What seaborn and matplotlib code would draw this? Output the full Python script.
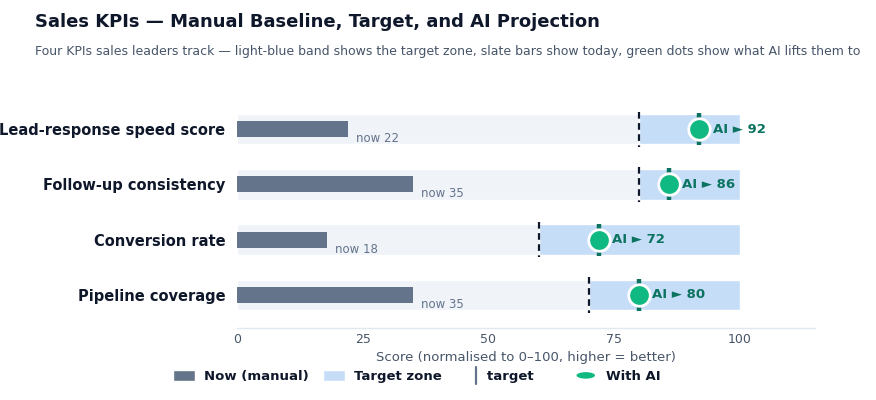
import numpy as np
import pandas as pd
import seaborn as sns
import matplotlib.pyplot as plt
from matplotlib.patches import Patch, Ellipse
from matplotlib.lines import Line2D
from matplotlib.legend_handler import HandlerBase

# ── Data ──────────────────────────────────────────────────────────────────────
KPIS = ['Lead-response speed score', 'Follow-up consistency',
        'Conversion rate', 'Pipeline coverage']
NOW = [22, 35, 18, 35]
TARGET = [80, 80, 60, 70]
WITH_AI = [92, 86, 72, 80]
SCALE_MAX = 100

TITLE = 'Sales KPIs — Manual Baseline, Target, and AI Projection'
SUBTITLE = ('Four KPIs sales leaders track — light-blue band shows the target zone, '
            'slate bars show today, green dots show what AI lifts them to')

# ── Style ─────────────────────────────────────────────────────────────────────
SLATE = '#64748b'
BAND = '#f0f4f9'
ZONE = '#c6ddf8'
GREEN = '#10b981'
DARK_GREEN = '#0b735f'
INK = '#0f172a'
MUTED = '#475569'


class _BarHandler(HandlerBase):
    """Thin vertical tick at the right end of the handle box."""
    def create_artists(self, legend, orig_handle, xdescent, ydescent,
                       width, height, fontsize, trans):
        x = width - xdescent - 1
        ln = Line2D([x, x], [-0.35 * height, 1.1 * height], color=SLATE,
                    linewidth=1.6, transform=trans)
        return [ln]


class _EllipseHandler(HandlerBase):
    def create_artists(self, legend, orig_handle, xdescent, ydescent,
                       width, height, fontsize, trans):
        e = Ellipse((width / 2 - xdescent, height / 2 - ydescent),
                    width * 0.85, height * 0.55, facecolor=GREEN,
                    edgecolor='none', transform=trans)
        return [e]


sns.set_theme(style='white')
plt.rcParams['font.family'] = ['DejaVu Sans']

df = pd.DataFrame({'kpi': KPIS, 'now': NOW, 'target': TARGET, 'ai': WITH_AI})
ypos = np.arange(len(KPIS))

fig = plt.figure(figsize=(8.76, 4.0), dpi=100)
ax = fig.add_axes([0.2705, 0.18, 0.66, 0.57])

# full-scale background band and target zone
ax.barh(ypos, [SCALE_MAX] * len(KPIS), height=0.55, color=BAND, zorder=0)
ax.barh(ypos, SCALE_MAX - df['target'], left=df['target'], height=0.55,
        color=ZONE, zorder=1)

# today's values
sns.barplot(data=df, x='now', y='kpi', orient='h', color=SLATE, width=0.29,
            saturation=1, linewidth=0, ax=ax, zorder=2)

# target markers
ax.vlines(df['target'], ypos - 0.32, ypos + 0.32, colors=INK,
          linestyles=(0, (3, 2)), linewidth=1.6, zorder=3)

# AI projection: tick + dot
ax.vlines(df['ai'], ypos - 0.29, ypos + 0.29, colors=DARK_GREEN,
          linewidth=3.2, zorder=4)
sns.scatterplot(data=df, x='ai', y='kpi', s=240, color=GREEN,
                edgecolor='white', linewidth=2, zorder=5, ax=ax, legend=False)

for i, row in df.iterrows():
    ax.text(row['now'] + 1.6, i + 0.17, f"now {row['now']}", color=SLATE,
            fontsize=8.5, va='center', ha='left', zorder=6)
    ax.text(row['ai'] + 2.6, i, f"AI ► {row['ai']}", color=DARK_GREEN,
            fontsize=9.5, fontweight='bold', va='center', ha='left', zorder=6)

ax.set_xlim(0, 115)
ax.set_ylim(len(KPIS) - 0.4, -0.53)
ax.set_xticks([0, 25, 50, 75, 100])
ax.tick_params(axis='x', length=0, labelsize=9, colors=MUTED, pad=3.5)
ax.tick_params(axis='y', length=0, pad=8.5)
for lab in ax.get_yticklabels():
    lab.set_fontweight('bold')
    lab.set_fontsize(10.5)
    lab.set_color(INK)
ax.set_ylabel('')
ax.set_xlabel('Score (normalised to 0–100, higher = better)', fontsize=9.5,
              color=MUTED, labelpad=4)
for side in ['left', 'right', 'top']:
    ax.spines[side].set_visible(False)
ax.spines['bottom'].set_color('#e2e8f0')
ax.spines['bottom'].set_linewidth(1)

fig.text(0.04, 0.945, TITLE, fontsize=13, fontweight='bold', color=INK,
         va='center', ha='left')
fig.text(0.04, 0.87, SUBTITLE, fontsize=9, color=MUTED, va='center', ha='left')

target_handle = object()
ai_handle = object()
handles = [
    Patch(facecolor=SLATE, label='Now (manual)'),
    Patch(facecolor=ZONE, label='Target zone'),
    target_handle,
    ai_handle,
]
labels = ['Now (manual)', 'Target zone', 'target      ', 'With AI']
leg = fig.legend(handles, labels, loc='lower center', bbox_to_anchor=(0.476, 0.013),
                 ncol=4, frameon=False, fontsize=9.5, handlelength=1.65,
                 handleheight=1.0, columnspacing=1.05, handletextpad=0.7,
                 handler_map={target_handle: _BarHandler(),
                              ai_handle: _EllipseHandler()})
for t in leg.get_texts():
    t.set_fontweight('bold')
    t.set_color(INK)

fig.savefig('out.png', dpi=100)
